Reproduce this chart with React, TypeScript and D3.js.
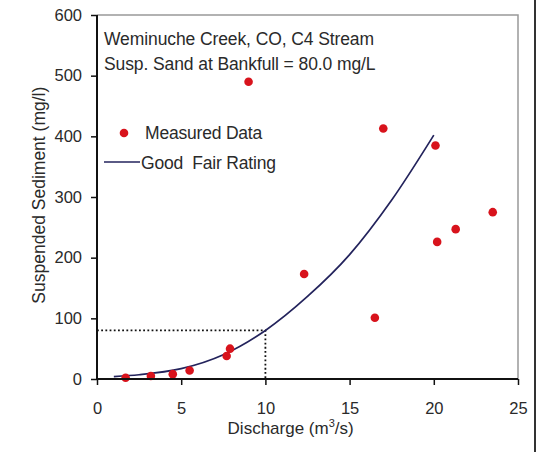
import { useEffect, useRef } from "react";
import * as d3 from "d3";

// measured data (discharge m3/s, suspended sediment mg/l)
const measuredQ = [1.7, 3.2, 4.5, 5.5, 7.7, 7.9, 9.0, 12.3, 16.5, 17.0, 20.1, 20.2, 21.3, 23.5];
const measuredS = [2, 5, 8, 14, 38, 50, 490, 173, 101, 413, 385, 226, 247, 275];

// rating curve
const ratingQ = [1, 2.5, 5, 7.5, 10, 12.5, 15, 17.5, 20];
const ratingS = [4, 7, 17, 40, 80, 136, 205, 295, 402];

const xTicks = [0, 5, 10, 15, 20, 25];
const yTicks = [0, 100, 200, 300, 400, 500, 600];

const bankfullQ = 10;
const bankfullS = 80;

const W = 539;
const H = 452;
const M = { left: 97, right: 21, top: 15, bottom: 73 };
const FONT = "'Liberation Sans', Arial, sans-serif";
const INK = "#2a2a2a";

export default function App() {
  const svgRef = useRef<SVGSVGElement>(null);

  useEffect(() => {
    if (!svgRef.current) return;
    const svg = d3.select(svgRef.current);
    svg.selectAll("*").remove();

    const x = d3.scaleLinear().domain([0, 25]).range([M.left, W - M.right]);
    const y = d3.scaleLinear().domain([0, 600]).range([H - M.bottom, M.top]);

    svg.append("rect").attr("width", W).attr("height", H).attr("fill", "#fff");

    // outer frame line at right
    svg.append("line")
      .attr("x1", 535).attr("x2", 535).attr("y1", 0).attr("y2", H)
      .attr("stroke", "#333").attr("stroke-width", 2);

    // plot frame (top + right gray)
    svg.append("path")
      .attr("d", `M${x(0)},${y(600)}H${x(25)}V${y(0)}`)
      .attr("fill", "none").attr("stroke", "#999").attr("stroke-width", 1.5);

    // dotted bankfull guides
    svg.append("path")
      .attr("d", `M${x(0)},${y(bankfullS)}H${x(bankfullQ)}V${y(0)}`)
      .attr("fill", "none").attr("stroke", "#111").attr("stroke-width", 1.8)
      .attr("stroke-dasharray", "1.8,2.4");

    // rating curve
    const curve = ratingQ.map((q, i) => [q, ratingS[i]] as [number, number]);
    svg.append("path")
      .datum(curve)
      .attr("d", d3.line<[number, number]>()
        .x((d) => x(d[0])).y((d) => y(d[1]))
        .curve(d3.curveMonotoneX))
      .attr("fill", "none").attr("stroke", "#23235c").attr("stroke-width", 1.7);

    // measured points
    svg.selectAll(".pt")
      .data(measuredQ.map((q, i) => [q, measuredS[i]]))
      .join("circle")
      .attr("cx", (d) => x(d[0])).attr("cy", (d) => y(d[1]))
      .attr("r", 4.3).attr("fill", "#d8131c");

    // axes
    const xAxis = svg.append("g")
      .attr("transform", `translate(0,${y(0)})`)
      .call(d3.axisBottom(x).tickValues(xTicks).tickSize(6).tickPadding(17).tickFormat(d3.format("d")));
    const yAxis = svg.append("g")
      .attr("transform", `translate(${x(0)},0)`)
      .call(d3.axisLeft(y).tickValues(yTicks).tickSize(6).tickPadding(9).tickFormat(d3.format("d")));
    [xAxis, yAxis].forEach((a) => {
      a.select(".domain").attr("stroke", "#111").attr("stroke-width", 2);
      a.selectAll(".tick line").attr("stroke", "#111").attr("stroke-width", 1.5);
      a.selectAll("text").attr("font-family", FONT).attr("font-size", 16.5).attr("fill", INK);
    });
    xAxis.select(".domain").attr("d", `M${x(0)},0H${x(25)}`);
    yAxis.select(".domain").attr("d", `M0,${y(0)}V${y(600)}`);

    // axis titles
    const xt = svg.append("text")
      .attr("x", x(11.5)).attr("y", 434)
      .attr("text-anchor", "middle")
      .attr("font-family", FONT).attr("font-size", 17).attr("fill", INK);
    xt.append("tspan").text("Discharge (m");
    xt.append("tspan").attr("font-size", 11).attr("dy", -7).text("3");
    xt.append("tspan").attr("dy", 7).text("/s)");

    svg.append("text")
      .attr("transform", `translate(45,${y(303)}) rotate(-90)`)
      .attr("text-anchor", "middle")
      .attr("font-family", FONT).attr("font-size", 17.5).attr("fill", INK)
      .text("Suspended Sediment (mg/l)");

    // annotation
    const note = ["Weminuche Creek, CO, C4 Stream", "Susp. Sand at Bankfull = 80.0 mg/L"];
    note.forEach((t, i) => {
      svg.append("text")
        .attr("x", 104).attr("y", 45 + i * 24.5)
        .attr("font-family", FONT).attr("font-size", 17.5).attr("fill", INK)
        .attr("letter-spacing", -0.1)
        .text(t);
    });

    // legend
    svg.append("circle").attr("cx", 124).attr("cy", 133).attr("r", 4.3).attr("fill", "#d8131c");
    svg.append("text").attr("x", 145).attr("y", 139)
      .attr("font-family", FONT).attr("font-size", 17.5).attr("fill", INK)
      .attr("letter-spacing", -0.2).text("Measured Data");
    svg.append("line").attr("x1", 104).attr("x2", 140).attr("y1", 162).attr("y2", 162)
      .attr("stroke", "#23235c").attr("stroke-width", 1.7);
    svg.append("text").attr("x", 141).attr("y", 169)
      .attr("font-family", FONT).attr("font-size", 17.5).attr("fill", INK)
      .attr("letter-spacing", -0.2)
      .style("white-space", "pre").text("Good  Fair Rating");
  }, []);

  return (
    <svg
      ref={svgRef}
      width={W}
      height={H}
      style={{ position: "absolute", left: 0, top: 0 }}
    />
  );
}
